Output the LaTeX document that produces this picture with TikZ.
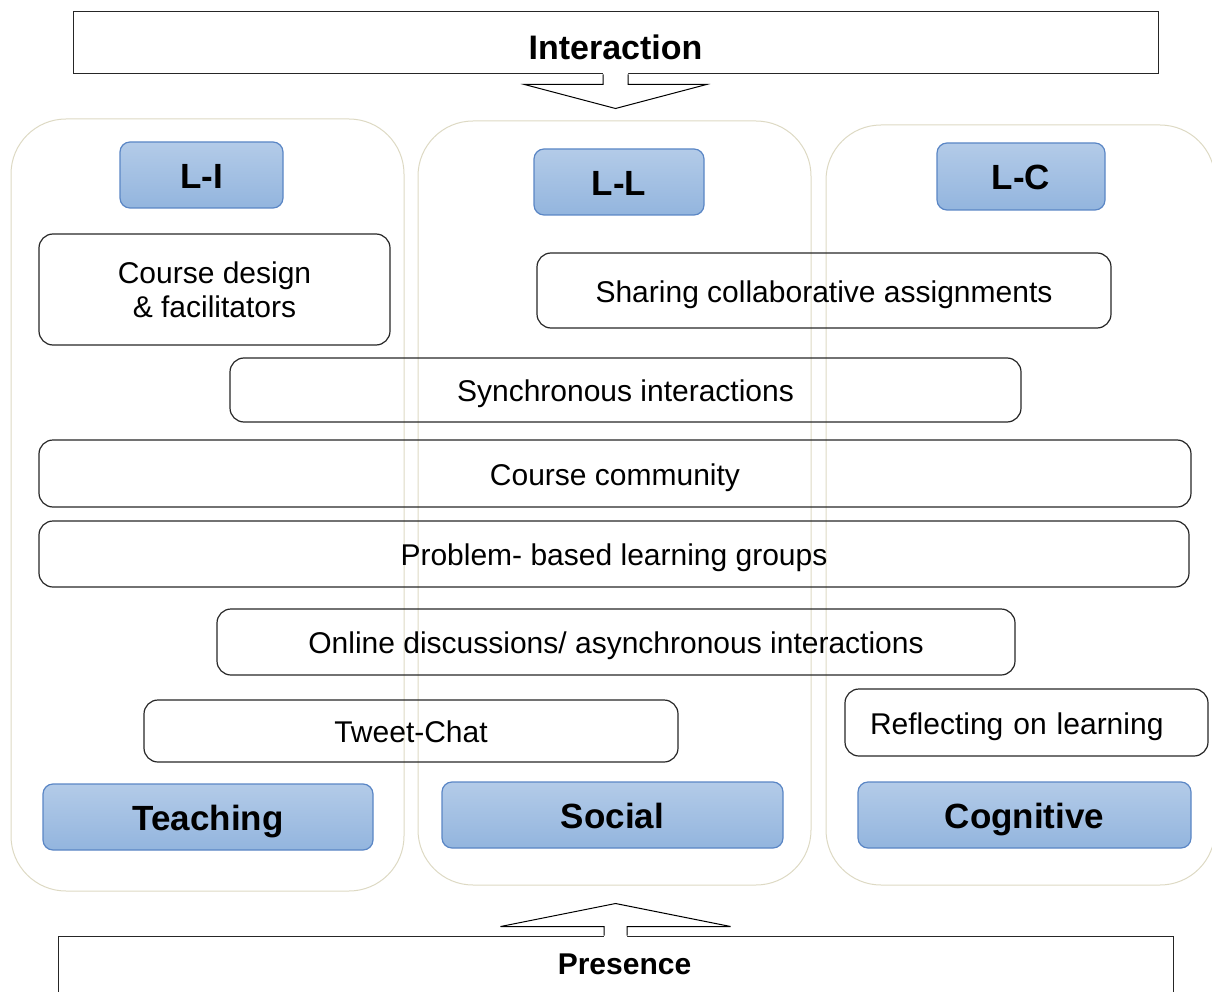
\documentclass[tikz,border=0pt]{standalone}
\usepackage{fontspec}
\setmainfont{Liberation Sans}
\definecolor{beige}{HTML}{DDD9C3}
\definecolor{bluetop}{HTML}{B3CBE8}
\definecolor{bluebot}{HTML}{93B5DE}
\definecolor{blueedge}{HTML}{5A86C5}
\begin{document}
\begin{tikzpicture}[x=1pt, y=-1pt,
  column/.style={draw=beige, line width=1pt, rounded corners=55pt, inner sep=0pt},
  item/.style={draw=black!85, line width=1.2pt, rounded corners=14pt, inner sep=0pt,
    align=center, font=\fontsize{30}{34}\selectfont},
  oneline/.style={item, text height=29pt, text depth=5.5pt},
  tag/.style={draw=blueedge, line width=1.2pt, rounded corners=10pt, inner sep=0pt,
    top color=bluetop, bottom color=bluebot, text height=34pt, text depth=7pt,
    font=\bfseries\fontsize{35}{40}\selectfont},
  banner/.style={draw=black!85, line width=1pt, inner sep=0pt},
  blockarrow/.style={draw=black, line width=1pt}]
\useasboundingbox (0,0) rectangle (1212,992);
% three presence columns
\node[column, minimum width=393pt, minimum height=772pt] (teachcol) at (207.5,505) {};
\node[column, minimum width=393pt, minimum height=764pt] (socialcol) at (614.5,503) {};
\node[column, minimum width=389pt, minimum height=760pt] (cogcol) at (1020.5,505) {};
% top and bottom banners
\node[banner, minimum width=1085pt, minimum height=62pt, text height=34pt,
  font=\bfseries\fontsize{34}{40}\selectfont] (interaction) at (615.5,43) {Interaction};
\node[banner, minimum width=1115pt, minimum height=58pt] (presence) at (615.5,965) {};
\node[font=\bfseries\fontsize{30}{34}\selectfont] (presencelbl) at ([xshift=9pt,yshift=1pt]presence) {Presence};
% interaction types
\node[tag, minimum width=163pt, minimum height=66pt] (li) at (201.5,175) {L-I};
\node[tag, minimum width=170pt, minimum height=66pt] (ll) at (619,182) {L-L};
\node[tag, minimum width=168pt, minimum height=67pt] (lc) at (1021,176.5) {L-C};
% presence types
\node[tag, minimum width=330pt, minimum height=66pt] (teaching) at (208,817) {Teaching};
\node[tag, minimum width=341pt, minimum height=66pt] (social) at (612.5,815) {Social};
\node[tag, minimum width=333pt, minimum height=66pt] (cognitive) at (1024.5,815) {Cognitive};
% activities
\node[item, minimum width=351pt, minimum height=111pt] (design) at (214.5,289.5) {Course design\\ \& facilitators};
\node[oneline, minimum width=574pt, minimum height=75pt] (sharing) at (824,290.5) {Sharing collaborative assignments};
\node[oneline, minimum width=791pt, minimum height=64pt] (sync) at (625.5,390) {Synchronous interactions};
\node[oneline, minimum width=1152pt, minimum height=67pt] (community) at (615,473.5) {Course community};
\node[oneline, minimum width=1150pt, minimum height=66pt] (problem) at (614,554) {Problem- based learning groups};
\node[oneline, minimum width=798pt, minimum height=66pt] (online) at (616,642) {Online discussions/ asynchronous interactions};
\node[oneline, minimum width=534pt, minimum height=62pt] (tweet) at (411,731) {Tweet-Chat};
\node[oneline, minimum width=363pt, minimum height=67pt, text width=313pt, align=left] (reflect) at (1026.5,722.5) {Reflecting on learning};
% block arrows
\path[fill=white] ([xshift=-12.5pt]interaction.south) ++(0,-2) -- ++(0,12) -- ++(-78.5,0)
  -- ++(91,24) -- ++(91,-24) -- ++(-78.5,0) -- ++(0,-12) -- cycle;
\draw[blockarrow] ([xshift=-12.5pt]interaction.south) -- ++(0,10) -- ++(-78.5,0)
  -- ++(91,24) -- ++(91,-24) -- ++(-78.5,0) -- ++(0,-10);
\path[fill=white] ([xshift=-11.5pt]presence.north) ++(0,2) -- ++(0,-11) -- ++(-103.5,0)
  -- ++(115,-23) -- ++(115,23) -- ++(-103.5,0) -- ++(0,11) -- cycle;
\draw[blockarrow] ([xshift=-11.5pt]presence.north) -- ++(0,-9) -- ++(-103.5,0)
  -- ++(115,-23) -- ++(115,23) -- ++(-103.5,0) -- ++(0,9);
\end{tikzpicture}
\end{document}
